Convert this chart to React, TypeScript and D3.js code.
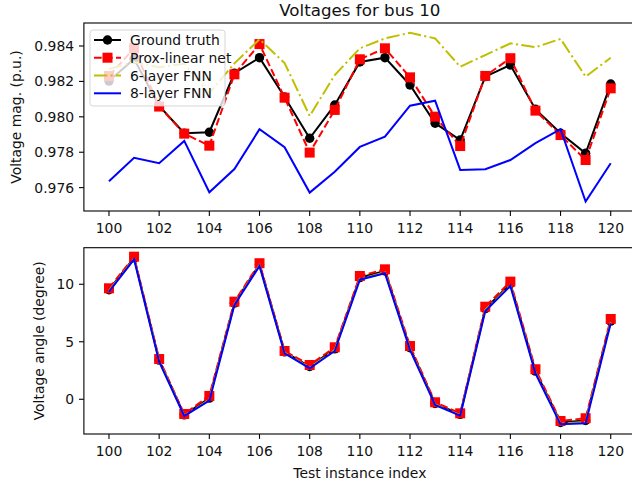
import * as d3 from 'd3';

const idx = d3.range(100, 121);

// voltage magnitude (p.u.)
const magTruth = [0.98202, 0.98327, 0.98061, 0.97907, 0.97913, 0.98246, 0.98334, 0.98112, 0.97879, 0.98067, 0.9831, 0.98334, 0.9818, 0.97964, 0.97869, 0.98227, 0.98293, 0.98043, 0.97907, 0.97794, 0.98185];
const magProx = [0.98231, 0.98387, 0.98058, 0.97905, 0.97837, 0.9824, 0.98411, 0.98108, 0.97798, 0.98039, 0.98325, 0.98387, 0.98223, 0.98001, 0.97835, 0.98231, 0.98331, 0.98035, 0.97897, 0.97756, 0.98161];
const magFnn6 = [0.9827, 0.9831, 0.9828, 0.983, 0.98133, 0.98302, 0.98438, 0.98304, 0.98005, 0.98236, 0.98387, 0.98443, 0.98475, 0.98443, 0.98283, 0.98349, 0.98415, 0.98393, 0.9844, 0.98227, 0.98334];
const magFnn8 = [0.97636, 0.97769, 0.97738, 0.97864, 0.97574, 0.97705, 0.9793, 0.97828, 0.97572, 0.9769, 0.9783, 0.97888, 0.98063, 0.98091, 0.977, 0.97704, 0.97756, 0.97851, 0.9793, 0.97521, 0.97738];

// voltage angle (degree)
const angTruth = [9.52, 12.3, 3.4, -1.36, 0.1, 8.36, 11.72, 4.12, 2.85, 4.38, 10.58, 11.15, 4.48, -0.37, -1.31, 7.88, 10.05, 2.45, -2.02, -1.85, 6.8];
const angProx = [9.65, 12.4, 3.5, -1.28, 0.29, 8.49, 11.83, 4.2, 2.98, 4.52, 10.72, 11.3, 4.63, -0.26, -1.22, 8.05, 10.23, 2.61, -1.89, -1.65, 6.98];
const angFnn6 = [9.42, 12.22, 3.33, -1.42, -0.04, 8.27, 11.64, 4.05, 2.76, 4.27, 10.47, 11.03, 4.36, -0.45, -1.38, 7.76, 9.93, 2.33, -2.12, -1.98, 6.68];
const angFnn8 = [9.36, 12.17, 3.27, -1.45, -0.12, 8.2, 11.59, 4.0, 2.7, 4.2, 10.4, 10.96, 4.29, -0.5, -1.42, 7.68, 9.85, 2.26, -2.18, -2.09, 6.61];

const xTicks = d3.range(100, 121, 2);
const magTicks = [0.976, 0.978, 0.98, 0.982, 0.984];
const angTicks = [0, 5, 10];
const legendLabels = ['Ground truth', 'Prox-linear net', '6-layer FNN', '8-layer FNN'];

const W = 632;
const H = 486;
const left = 83.9;
const right = 635.8;
const font = 'DejaVu Sans';
const yellow = '#bfbf00';
const ms = 10; // marker size px

const x = d3.scaleLinear().domain([99, 121]).range([left, right]);

function Panel({ top, bottom, domain, ticks, fmt, series, label, legend }) {
  const y = d3.scaleLinear().domain(domain).range([bottom, top]);
  const line = d3
    .line<number>()
    .x((_, i) => x(idx[i]))
    .y((d) => y(d));
  const [truth, prox, fnn6, fnn8] = series;
  return (
    <g>
      <path d={line(truth)} fill="none" stroke="black" strokeWidth={2} />
      {truth.map((d, i) => (
        <circle key={i} cx={x(idx[i])} cy={y(d)} r={ms / 2 - 0.3} fill="black" />
      ))}
      <path d={line(prox)} fill="none" stroke="red" strokeWidth={2} strokeDasharray="7.7 3.3" />
      {prox.map((d, i) => (
        <rect key={i} x={x(idx[i]) - ms / 2} y={y(d) - ms / 2} width={ms} height={ms} fill="red" />
      ))}
      <path d={line(fnn6)} fill="none" stroke={yellow} strokeWidth={2} strokeDasharray="13.3 3.3 2.1 3.3" />
      <path d={line(fnn8)} fill="none" stroke="blue" strokeWidth={2} />

      <rect x={left} y={top} width={right - left} height={bottom - top} fill="none" stroke="black" strokeWidth={1.1} />
      {xTicks.map((t) => (
        <g key={t} transform={`translate(${x(t)},${bottom})`}>
          <line y2={4.9} stroke="black" strokeWidth={1.1} />
          <text y={21.5} textAnchor="middle" fontSize={13.9} fontFamily={font} fill="#111">
            {t}
          </text>
        </g>
      ))}
      {ticks.map((t) => (
        <g key={t} transform={`translate(${left},${y(t)})`}>
          <line x2={-4.9} stroke="black" strokeWidth={1.1} />
          <text x={-9.8} dy="0.36em" textAnchor="end" fontSize={13.9} fontFamily={font} fill="#111">
            {fmt(t)}
          </text>
        </g>
      ))}
      <text
        transform={`translate(${label.x},${(top + bottom) / 2}) rotate(-90)`}
        textAnchor="middle"
        dy="0.36em"
        fontSize={13.9}
        fontFamily={font}
        fill="#111"
      >
        {label.text}
      </text>
      {legend && <Legend />}
    </g>
  );
}

function Legend() {
  const lx = 90;
  const ly = 30;
  const rows = [40, 57.7, 75.5, 93.3];
  const h0 = 94;
  const h1 = 121;
  const hm = (h0 + h1) / 2;
  return (
    <g>
      <rect x={lx} y={ly} width={135} height={76} rx={3} fill="white" fillOpacity={0.8} stroke="#cccccc" strokeOpacity={0.8} />
      <line x1={h0} x2={h1} y1={rows[0]} y2={rows[0]} stroke="black" strokeWidth={2} />
      <circle cx={hm} cy={rows[0]} r={ms / 2 - 0.3} fill="black" />
      <line x1={h0} x2={h1} y1={rows[1]} y2={rows[1]} stroke="red" strokeWidth={2} strokeDasharray="7.7 3.3" />
      <rect x={hm - ms / 2} y={rows[1] - ms / 2} width={ms} height={ms} fill="red" />
      <line x1={h0} x2={h1} y1={rows[2]} y2={rows[2]} stroke={yellow} strokeWidth={2} strokeDasharray="13.3 3.3 2.1 3.3" />
      <line x1={h0} x2={h1} y1={rows[3]} y2={rows[3]} stroke="blue" strokeWidth={2} />
      {legendLabels.map((l, i) => (
        <text key={l} x={130} y={rows[i]} dy="0.36em" fontSize={13.9} fontFamily={font} fill="#111">
          {l}
        </text>
      ))}
    </g>
  );
}

export default function App() {
  return (
    <svg width={W} height={H} style={{ position: 'absolute', left: 0, top: 0, background: 'white' }}>
      <rect width={W} height={H} fill="white" />
      <text x={(left + right) / 2} y={16} textAnchor="middle" fontSize={16.7} fontFamily={font} fill="#111">
        Voltages for bus 10
      </text>
      <Panel
        top={23}
        bottom={211}
        domain={[0.97468, 0.9853]}
        ticks={magTicks}
        fmt={(t) => t.toFixed(3)}
        series={[magTruth, magProx, magFnn6, magFnn8]}
        label={{ x: 16, text: 'Voltage mag. (p.u.)' }}
        legend
      />
      <Panel
        top={247.7}
        bottom={434}
        domain={[-3.02, 13.18]}
        ticks={angTicks}
        fmt={(t) => String(t)}
        series={[angTruth, angProx, angFnn6, angFnn8]}
        label={{ x: 39, text: 'Voltage angle (degree)' }}
        legend={false}
      />
      <text x={(left + right) / 2} y={478} textAnchor="middle" fontSize={13.9} fontFamily={font} fill="#111">
        Test instance index
      </text>
    </svg>
  );
}
